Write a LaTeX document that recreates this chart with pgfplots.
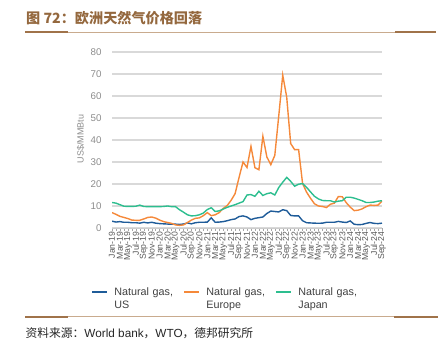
\documentclass[border=0pt]{standalone}
\usepackage{pgfplots}
\usepackage{pgfplotstable}
\pgfplotsset{compat=1.18}
\usepackage{fontspec}
\setmainfont{Liberation Sans}
\newfontfamily\cjk{Noto Sans CJK SC}
\definecolor{usblue}{HTML}{1F5C99}
\definecolor{euorange}{HTML}{F5893A}
\definecolor{jpgreen}{HTML}{2DBE8F}
\definecolor{titlebrown}{HTML}{94683E}
\definecolor{rulebrown}{HTML}{A0734A}
\definecolor{rulelight}{HTML}{C9AB8E}
\definecolor{ticklab}{HTML}{8C8C8C}
\definecolor{xlab}{HTML}{595959}
\definecolor{leggray}{HTML}{404040}
\pgfplotstableread{
idx us eu jp
0 3.1 7.0 11.6
1 2.7 6.2 11.3
2 2.9 5.3 10.6
3 2.6 4.8 9.9
4 2.6 4.3 9.8
5 2.4 3.6 9.8
6 2.4 3.5 9.9
7 2.2 3.5 10.4
8 2.6 4.1 9.8
9 2.3 4.8 9.7
10 2.6 5.0 9.7
11 2.2 4.5 9.7
12 2.0 3.6 9.7
13 1.9 2.9 9.8
14 1.8 2.5 10.0
15 1.7 2.1 9.7
16 1.75 1.4 9.7
17 1.6 1.2 8.3
18 1.8 1.4 7.2
19 2.3 2.5 6.0
20 1.9 3.6 5.5
21 2.4 4.4 5.6
22 2.6 4.6 6.0
23 2.6 5.6 6.8
24 2.7 7.0 8.4
25 4.6 5.6 9.2
26 2.6 6.0 7.5
27 2.7 7.0 7.8
28 2.9 8.9 8.6
29 3.3 10.2 9.4
30 3.8 12.6 10.0
31 4.1 15.6 10.6
32 5.2 23.0 11.3
33 5.5 30.0 12.0
34 5.0 27.5 15.0
35 3.8 37.1 15.2
36 4.4 27.4 14.4
37 4.7 26.5 16.7
38 5.0 41.7 14.8
39 6.6 32.3 15.6
40 7.7 28.8 16.0
41 7.5 33.0 15.0
42 7.3 51.0 18.4
43 8.3 69.5 20.8
44 7.9 59.5 23.0
45 5.7 38.4 21.2
46 5.5 35.6 19.0
47 5.5 35.6 19.9
48 3.3 20.2 20.2
49 2.4 16.3 18.5
50 2.3 13.5 16.4
51 2.2 11.0 14.4
52 2.15 10.0 13.2
53 2.2 9.8 12.5
54 2.6 9.3 12.4
55 2.6 10.8 12.4
56 2.6 11.3 11.8
57 3.0 14.3 12.2
58 2.7 14.2 12.4
59 2.5 11.5 14.0
60 3.2 9.5 14.0
61 1.7 7.9 13.6
62 1.5 8.1 13.0
63 1.6 8.7 12.4
64 2.1 9.7 11.6
65 2.5 10.4 11.6
66 2.1 10.3 11.8
67 2.0 10.4 12.2
68 2.2 12.2 12.4
}\gasdata
\begin{document}
\begin{tikzpicture}
\useasboundingbox (0,0) rectangle (445bp,352bp);
% title and rules
\node[anchor=west, text=titlebrown, font=\cjk\bfseries\fontsize{14.2}{16}\selectfont, inner sep=0pt] at (26bp,334bp) {图 72：欧洲天然气价格回落};
\draw[rulelight, line width=0.8bp] (25bp,319.7bp) -- (436bp,319.7bp);
\draw[rulebrown, line width=1.8bp] (25bp,319.7bp) -- (68bp,319.7bp);
\draw[rulebrown, line width=1.8bp] (395bp,319.7bp) -- (436bp,319.7bp);
\draw[rulelight, line width=0.8bp] (25bp,35.3bp) -- (438bp,35.3bp);
\draw[rulebrown, line width=1.8bp] (25bp,35.3bp) -- (68bp,35.3bp);
\draw[rulebrown, line width=1.8bp] (394bp,35.3bp) -- (438bp,35.3bp);
\node[anchor=west, inner sep=0pt, text=black!85, font=\fontsize{11.8}{13}\selectfont] at (25.5bp,19.3bp) {{\cjk 资料来源：}World bank{\cjk ，}WTO{\cjk ，德邦研究所}};
\begin{axis}[
  at={(112bp,124bp)}, anchor=south west,
  width=270bp, height=176bp, scale only axis,
  xmin=0, xmax=68, ymin=0, ymax=80,
  axis x line*=bottom, axis y line*=left,
  y axis line style={draw=none},
  x axis line style={draw=gray!40, line width=0.5bp},
  ytick={0,10,...,80}, ytick style={draw=none},
  xtick={0,2,...,68}, minor x tick num=1,
  xtick pos=bottom, tick align=outside,
  major tick length=2.5bp, minor tick length=2.5bp,
  xtick style={draw=gray!70, line width=0.4bp},
  minor x tick style={draw=gray!70, line width=0.4bp},
  xticklabels={Jan-19,Mar-19,May-19,Jul-19,Sep-19,Nov-19,Jan-20,Mar-20,May-20,Jul-20,Sep-20,Nov-20,Jan-21,Mar-21,May-21,Jul-21,Sep-21,Nov-21,Jan-22,Mar-22,May-22,Jul-22,Sep-22,Nov-22,Jan-23,Mar-23,May-23,Jul-23,Sep-23,Nov-23,Jan-24,Mar-24,May-24,Jul-24,Sep-24},
  xticklabel style={rotate=90, anchor=east, font=\fontsize{8.7}{9}\selectfont, text=xlab, inner sep=1bp},
  yticklabel style={font=\fontsize{9.8}{11}\selectfont, text=ticklab, anchor=east, xshift=-4.5bp},
  /pgf/number format/assume math mode=true,
  ymajorgrids, major grid style={draw=gray!30, line width=1.1bp},
  ylabel={US\$/MMBtu},
  ylabel style={at={(axis description cs:-0.116,0.506)}, anchor=center, rotate=0, font=\fontsize{9}{10}\selectfont, text=ticklab},
  legend columns=3,
  legend style={at={(axis description cs:-0.077,-0.33)}, anchor=north west, draw=none, fill=none, inner sep=0pt,
    font=\fontsize{10.8}{13}\selectfont, text=leggray,
    nodes={align=left, text width=63bp, inner sep=1bp}, column sep=5bp},
  legend image code/.code={\draw[#1, line width=2bp] (0bp,0bp) -- (15bp,0bp);},
]
\addplot[usblue, line width=1.4bp] table[x=idx, y=us] {\gasdata};
\addlegendentry{Natural gas,\\US}
\addplot[euorange, line width=1.4bp] table[x=idx, y=eu] {\gasdata};
\addlegendentry{Natural gas,\\Europe}
\addplot[jpgreen, line width=1.4bp] table[x=idx, y=jp] {\gasdata};
\addlegendentry{Natural gas,\\Japan}
\end{axis}
\end{tikzpicture}
\end{document}
